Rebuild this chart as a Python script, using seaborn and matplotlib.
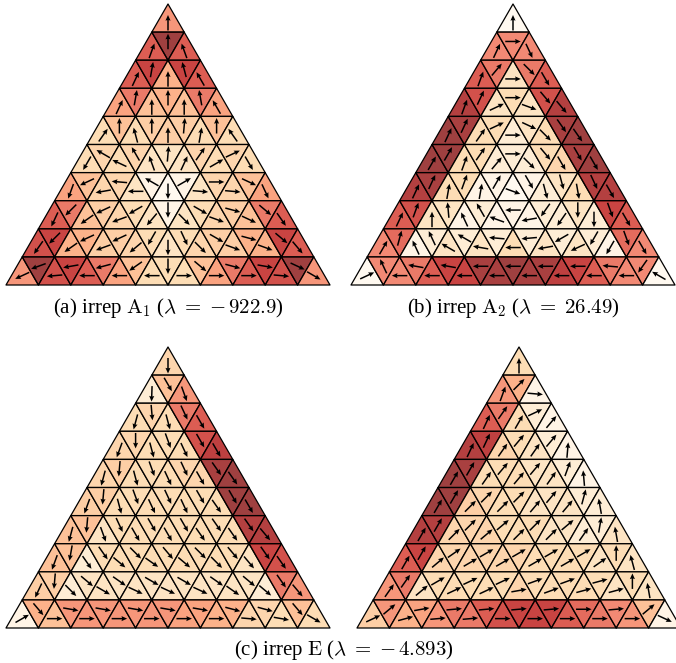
import numpy as np
import matplotlib
matplotlib.use("Agg")
import matplotlib.pyplot as plt
from matplotlib.collections import PolyCollection
import seaborn as sns

a_levels = [[5],
 [7,10,7],
 [7,8,4,8,7],
 [4.5,6,3.5,4,3.5,6,4.5],
 [2,3.5,2,3,3,3,2,3.5,2],
 [2,2.5,2,2.5,1.5,1.5,1.5,2.5,2,2.5,2],
 [4.5,3.5,2.5,2.5,1.5,.5,0,.5,1.5,2.5,2.5,3.5,4.5],
 [7,6,3.5,3,2.5,2,1.5,.5,1.5,2,2.5,3,3.5,6,7],
 [7.5,8,4,4,3,3,2.5,2,1.5,2,2.5,3,3,4,4,8,7],
 [5,10,7.5,8,7,6,4.5,3.5,2,2,2,3.5,4.5,6,7,8,7.5,10,5]]
a_angles = [[90],
 [70,90,110],
 [65,80,90,105,120],
 [65,80,90,90,90,100,120],
 [55,90,105,90,90,85,80,90,125],
 [240,150,155,120,110,85,65,55,30,25,300],
 [250,205,190,175,180,150,270,30,355,0,355,335,295],
 [245,225,215,205,200,210,230,270,315,330,340,345,335,320,305],
 [235,225,215,205,200,205,220,240,270,295,315,330,340,345,340,320,310],
 [205,200,185,190,180,195,180,215,180,270,0,320,0,345,0,350,355,335,330]]

b_levels = [[0],
 [5.5,5.5,5.5],
 [7,6,1.5,6,7],
 [9,7.5,1.5,2,1.5,7.5,9],
 [10,9.5,2,2,1,1.5,2,9.5,10],
 [10,10,2,2,1,1,1,2,2.5,9.5,10],
 [9,9.5,2,2,.5,.5,0,.5,1,1.5,2,9,9],
 [7,7.5,1.5,1.5,.5,1,.5,.5,.5,1,1,1.5,1,8,7],
 [5.5,6.5,.5,1,1.5,1,1.5,1,2,1,1.5,1,1.5,1,.5,6.5,5.5],
 [0,5.5,5.5,6,7,8,8,9.5,9.5,10,9.5,9.5,8.5,8,7,6,5.5,5.5,0]]
b_angles = [[90],
 [65,0,295],
 [70,50,0,315,300],
 [70,65,25,0,340,310,310],
 [65,65,55,25,0,335,315,305,305],
 [60,60,70,55,50,0,315,310,300,300,300],
 [65,65,80,70,80,60,340,300,285,285,280,295,300],
 [65,70,90,95,115,120,160,180,190,235,235,270,270,290,300],
 [60,75,115,115,150,150,170,175,180,185,190,210,205,240,240,290,300],
 [25,115,180,170,180,170,180,180,180,180,180,180,180,180,180,175,180,235,150]]

c_levels = [[2.5],
 [1,3.5,5],
 [2,2.5,2,6,7],
 [2.5,2.5,2,2,2,7.5,8.5],
 [2.5,3,2,2,2,2.5,2.5,9.5,10],
 [3,3,2,2,2,2,2,2,2,10,10],
 [3.5,3.5,1.5,2,2,2,2,2,2,2,2,9,9],
 [3.5,3.5,1,2,2,2,2,2,2,2,2,2,1.5,8,7.5],
 [3,3,1,1.5,1.5,1.5,1.5,1.5,1.5,1.5,1.5,1.5,1.5,1.5,1,6,5],
 [.5,4,3.5,5,5,5,5,5,5,5,4.5,4.5,4,4,2.5,2.5,2,3.5,2]]
c_angles = [[270],
 [268,300,290],
 [255,275,285,295,300],
 [250,270,285,290,295,300,300],
 [255,265,285,290,295,295,300,305,305],
 [250,265,285,290,295,295,295,300,305,300,300],
 [255,265,290,295,300,300,300,300,305,305,305,305,310],
 [250,260,305,305,320,315,325,310,320,315,315,310,310,305,305],
 [245,265,315,320,330,325,335,330,335,330,335,325,325,320,320,305,310],
 [30,310,0,350,0,350,0,350,0,350,0,350,0,345,355,345,350,310,330]]

d_levels = [[2],
 [5,4,.5],
 [7,6,2,1,.5],
 [9,8.5,2.5,2,1.5,1,.5],
 [10,9.5,2,2,2,1.5,1.5,1,.5],
 [10,10,3,2.5,2,2,1.5,1.5,1.5,1,1],
 [9,9,2.5,2.5,2.5,2,2,2,1.5,1.5,1,1,1.5],
 [7,8,2.5,2.5,2.5,2.5,2.5,2.5,2,2,2,2,1.5,2,1.5],
 [5,6,1.5,2,2,2,2,2,2.5,2,2,2,2,2,1.5,2,1.5],
 [3,5,4,4.5,5,6,6,7,7.5,8,8,8,7,6.5,6,5.5,5,3.5,.5]]
d_angles = [[90],
 [70,45,355],
 [65,55,60,25,50],
 [65,65,55,50,55,50,85],
 [60,60,55,50,50,50,55,70,95],
 [60,60,45,45,45,45,50,50,50,75,100],
 [60,60,45,45,40,40,45,45,45,40,55,80,100],
 [60,60,40,35,30,30,30,30,30,30,30,30,35,90,105],
 [55,55,40,30,25,25,25,25,10,20,20,20,15,15,15,90,100],
 [25,40,15,10,5,5,5,5,0,5,0,5,0,0,0,5,0,40,335]]

captions = [r"(a) irrep $\mathrm{A}_1$ ($\lambda\;=\;{-}\,922.9$)",
            r"(b) irrep $\mathrm{A}_2$ ($\lambda\;=\;26.49$)",
            r"(c) irrep $\mathrm{E}$ ($\lambda\;=\;{-}\,4.893$)"]

sns.set_style("white")
plt.rcParams["font.family"] = ["Liberation Serif", "DejaVu Serif"]
plt.rcParams["mathtext.fontset"] = "cm"
cmap = sns.color_palette("OrRd", as_cmap=True)

W, H = 676, 663
fig = plt.figure(figsize=(W / 100, H / 100), dpi=100)
h = np.sqrt(3) / 2


def shade(v):
    t = np.interp(v, [0, .05, .1, .15, .2, .25, .3, .4, .5, .6, .7, .8, 1],
                  [0, .05, .13, .2, .26, .31, .36, .47, .58, .68, .77, .86, 1])
    c = np.array(cmap(t))
    c[3] = .75
    return c


def panel(box, levels, angles):
    left, top, right, bottom = box
    ax = fig.add_axes([left / W, 1 - bottom / H, (right - left) / W, (bottom - top) / H])
    ax.set_xlim(-5, 5)
    ax.set_ylim(0, 10 * h)
    ax.axis("off")
    polys, cols, cx, cy, ang = [], [], [], [], []
    for r, (lv, an) in enumerate(zip(levels, angles)):
        yt = (10 - r) * h
        for i, (v, t) in enumerate(zip(lv, an)):
            k = i // 2
            x0 = k - r / 2
            if i % 2 == 0:
                polys.append([(x0, yt), (x0 - .5, yt - h), (x0 + .5, yt - h)])
                cx.append(x0)
                cy.append(yt - 2 * h / 3)
            else:
                polys.append([(x0, yt), (x0 + 1, yt), (x0 + .5, yt - h)])
                cx.append(x0 + .5)
                cy.append(yt - h / 3)
            cols.append(shade(v / 10))
            ang.append(np.deg2rad(t))
    pc = PolyCollection(polys, facecolors=cols, edgecolors="black", linewidths=.9, clip_on=False)
    ax.add_collection(pc)
    ang = np.array(ang)
    ax.quiver(cx, cy, 15.5 * np.cos(ang), 15.5 * np.sin(ang), angles="uv", units="dots",
              scale_units="dots", scale=1, pivot="mid", width=1.5, headwidth=3.4,
              headlength=3.8, headaxislength=3.4, color="black", clip_on=False, zorder=3)
    return ax


panel((6, 4, 330, 285), a_levels, a_angles)
panel((351, 4, 675, 285), b_levels, b_angles)
panel((6, 347, 330, 628), c_levels, c_angles)
panel((357, 347, 681, 628), d_levels, d_angles)

for cap, px, py in zip(captions, (168, 513, 344), (308.5, 308.5, 650)):
    fig.text(px / W, 1 - py / H, cap, ha="center", va="center", fontsize=15, color="black")

fig.savefig("out.png", dpi=100)
